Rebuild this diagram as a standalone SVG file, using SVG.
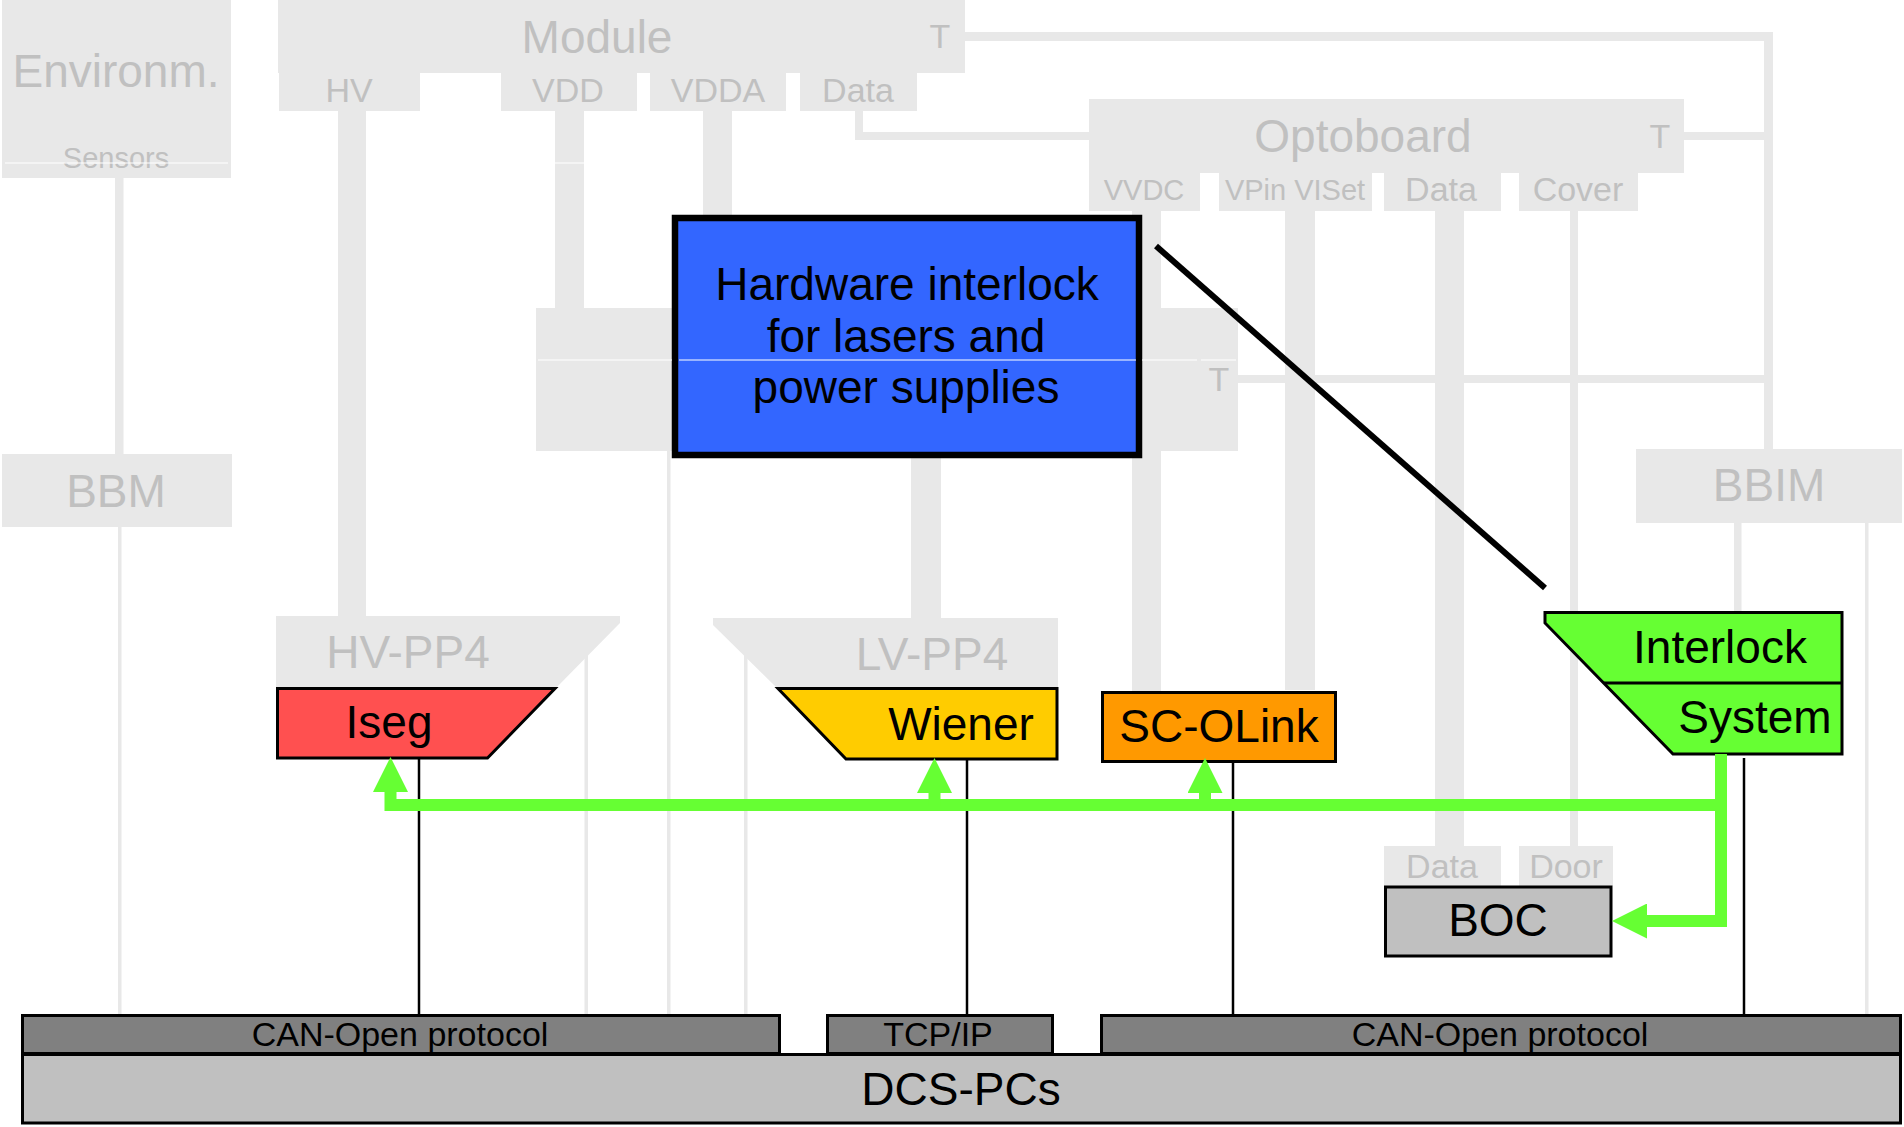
<svg xmlns="http://www.w3.org/2000/svg" width="1904" height="1127" viewBox="0 0 1904 1127">
<style>
text { font-family: "Liberation Sans", Arial, Helvetica, sans-serif; text-anchor: middle; fill: #000; }
.g { fill: #e8e8e8; }
text.gt { fill: #c0c0c0; }
.big { font-size: 46px; }
.sm { font-size: 34px; }
.xs { font-size: 29px; }
.dev { stroke: #000; stroke-width: 3; }
.bl { stroke: #000; stroke-width: 2.5; fill: none; }
.grn { stroke: #66ff33; stroke-width: 12; fill: none; stroke-linejoin: miter; marker-end: url(#ah); }
.seam { fill: #ffffff; }
</style>
<defs>
<marker id="ah" markerUnits="userSpaceOnUse" markerWidth="35" markerHeight="35" viewBox="0 0 35 35" refX="0" refY="17.5" orient="auto"><path d="M0,0 L35,17.5 L0,35 z" fill="#66ff33"/></marker>
</defs>
<rect x="0" y="0" width="1904" height="1127" fill="#ffffff"/>

<g id="gray-connectors" class="g">
<rect x="115" y="178" width="8.5" height="276"/>
<rect x="118" y="527" width="3.5" height="487"/>
<rect x="338" y="111" width="28" height="505"/>
<rect x="555" y="111" width="29" height="197"/>
<rect x="703" y="111" width="29" height="197"/>
<rect x="855" y="111" width="8" height="29"/>
<rect x="855" y="132" width="234" height="8"/>
<rect x="965" y="32" width="808" height="9"/>
<rect x="1764" y="32" width="9" height="417"/>
<rect x="1684" y="132" width="80" height="8"/>
<rect x="1238" y="375" width="526" height="8"/>
<rect x="1132" y="211" width="29" height="480"/>
<rect x="1285" y="211" width="30" height="479"/>
<rect x="1435" y="211" width="29" height="635"/>
<rect x="1570" y="211" width="8" height="635"/>
<rect x="911" y="451" width="30" height="167"/>
<rect x="584.5" y="640" width="3.5" height="374"/>
<rect x="667" y="451" width="3.5" height="563"/>
<rect x="744" y="640" width="3.5" height="374"/>
<rect x="1865" y="523" width="3.5" height="491"/>
<rect x="1734" y="523" width="7.5" height="89"/>
</g>

<g id="environm">
<rect class="g" x="2" y="0" width="229" height="178"/>
<text class="gt big" x="116" y="87">Environm.</text>
<text class="gt xs" x="116" y="168">Sensors</text>
</g>

<g id="bbm">
<rect class="g" x="2" y="454" width="230" height="73"/>
<text class="gt big" x="116" y="507">BBM</text>
</g>

<g id="module">
<rect class="g" x="278" y="0" width="687" height="73"/>
<rect class="g" x="279" y="72" width="141" height="39"/>
<rect class="g" x="501" y="72" width="136" height="39"/>
<rect class="g" x="650" y="72" width="136" height="39"/>
<rect class="g" x="800" y="72" width="117" height="39"/>
<text class="gt big" x="597" y="53">Module</text>
<text class="gt sm" x="940" y="48">T</text>
<text class="gt sm" x="349" y="102">HV</text>
<text class="gt sm" x="568" y="102">VDD</text>
<text class="gt sm" x="718" y="102">VDDA</text>
<text class="gt sm" x="858" y="102">Data</text>
</g>

<g id="optoboard">
<rect class="g" x="1089" y="99" width="595" height="74"/>
<rect class="g" x="1089" y="172" width="111" height="39"/>
<rect class="g" x="1219" y="172" width="153" height="39"/>
<rect class="g" x="1384" y="172" width="117" height="39"/>
<rect class="g" x="1519" y="172" width="119" height="39"/>
<text class="gt big" x="1363" y="152">Optoboard</text>
<text class="gt sm" x="1660" y="148">T</text>
<text class="gt xs" x="1144" y="200">VVDC</text>
<text class="gt xs" x="1295" y="200">VPin VISet</text>
<text class="gt sm" x="1441" y="201">Data</text>
<text class="gt sm" x="1578" y="201">Cover</text>
</g>

<g id="middle-box">
<rect class="g" x="536" y="308" width="702" height="143"/>
<text class="gt sm" x="1219" y="391">T</text>
</g>

<g id="hw-interlock">
<rect x="675" y="218" width="464" height="237" fill="#3366ff" stroke="#000" stroke-width="6.5"/>
<text class="big" x="907" y="300">Hardware interlock</text>
<text class="big" x="906" y="352">for lasers and</text>
<text class="big" x="906" y="403">power supplies</text>
</g>

<g id="bbim">
<rect class="g" x="1636" y="449" width="266" height="74"/>
<text class="gt big" x="1769" y="501">BBIM</text>
</g>

<g id="hv-pp4">
<polygon class="g" points="276,616 620,616 620,623 555,689 276,689"/>
<text class="gt big" x="408" y="668">HV-PP4</text>
</g>

<g id="iseg">
<polygon class="dev" fill="#ff5050" points="277.5,688.5 555,688.5 487.5,758 277.5,758"/>
<text class="big" x="389" y="738">Iseg</text>
</g>

<g id="lv-pp4">
<polygon class="g" points="713,618 1058,618 1058,689 778,689 713,625"/>
<text class="gt big" x="932" y="670">LV-PP4</text>
</g>

<g id="wiener">
<polygon class="dev" fill="#ffcc00" points="778,688.5 1057,688.5 1057,759 846,759"/>
<text class="big" x="961" y="740">Wiener</text>
</g>

<g id="sc-olink">
<rect class="dev" fill="#ff9900" x="1102.5" y="692.5" width="233" height="69"/>
<text class="big" x="1219" y="742">SC-OLink</text>
</g>

<g id="interlock-system">
<polygon class="dev" fill="#66ff33" points="1545,612.5 1842,612.5 1842,754 1673,754 1545,623"/>
<line x1="1604" y1="683" x2="1842" y2="683" stroke="#000" stroke-width="3"/>
<text class="big" x="1720" y="663">Interlock</text>
<text class="big" x="1755" y="733">System</text>
</g>

<g id="boc">
<rect class="g" x="1384" y="846" width="117" height="40"/>
<rect class="g" x="1519" y="846" width="94" height="40"/>
<text class="gt sm" x="1442" y="878">Data</text>
<text class="gt sm" x="1566" y="878">Door</text>
<rect class="dev" fill="#c0c0c0" x="1385.5" y="887" width="225.5" height="69"/>
<text class="big" x="1498" y="936">BOC</text>
</g>

<g id="can-left">
<rect class="dev" fill="#808080" x="22.5" y="1015.5" width="757" height="38"/>
<text class="sm" x="400" y="1046">CAN-Open protocol</text>
</g>
<g id="tcp-ip">
<rect class="dev" fill="#808080" x="827.5" y="1015.5" width="225" height="38"/>
<text class="sm" x="938" y="1046">TCP/IP</text>
</g>
<g id="can-right">
<rect class="dev" fill="#808080" x="1101.5" y="1015.5" width="799" height="38"/>
<text class="sm" x="1500" y="1046">CAN-Open protocol</text>
</g>
<g id="dcs-pcs">
<rect class="dev" fill="#c0c0c0" x="22.5" y="1054.5" width="1878" height="68.5"/>
<text class="big" x="961" y="1105">DCS-PCs</text>
</g>

<g id="connectors">
<line class="bl" x1="419" y1="759" x2="419" y2="1014"/>
<line class="bl" x1="967" y1="760" x2="967" y2="1014"/>
<line class="bl" x1="1233" y1="763" x2="1233" y2="1014"/>
<line class="bl" x1="1744" y1="758" x2="1744" y2="1014"/>
<line x1="1156" y1="246" x2="1545" y2="588" stroke="#000" stroke-width="6"/>
<path class="grn" d="M1721,754 V921 H1647"/>
<path class="grn" d="M1721,805 H390.5 V792"/>
<path class="grn" d="M934.5,806 V793"/>
<path class="grn" d="M1205,806 V793"/>
</g>

<g id="seams" class="seam">
<rect x="5" y="162.5" width="223" height="1"/>
<rect x="555" y="162.5" width="29" height="1"/>
<rect x="538" y="359.5" width="134" height="1"/>
<rect x="679" y="359.5" width="457" height="1"/>
<rect x="1142" y="359.5" width="55" height="1"/>
<rect x="1201" y="359.5" width="35" height="1"/>
</g>
</svg>
